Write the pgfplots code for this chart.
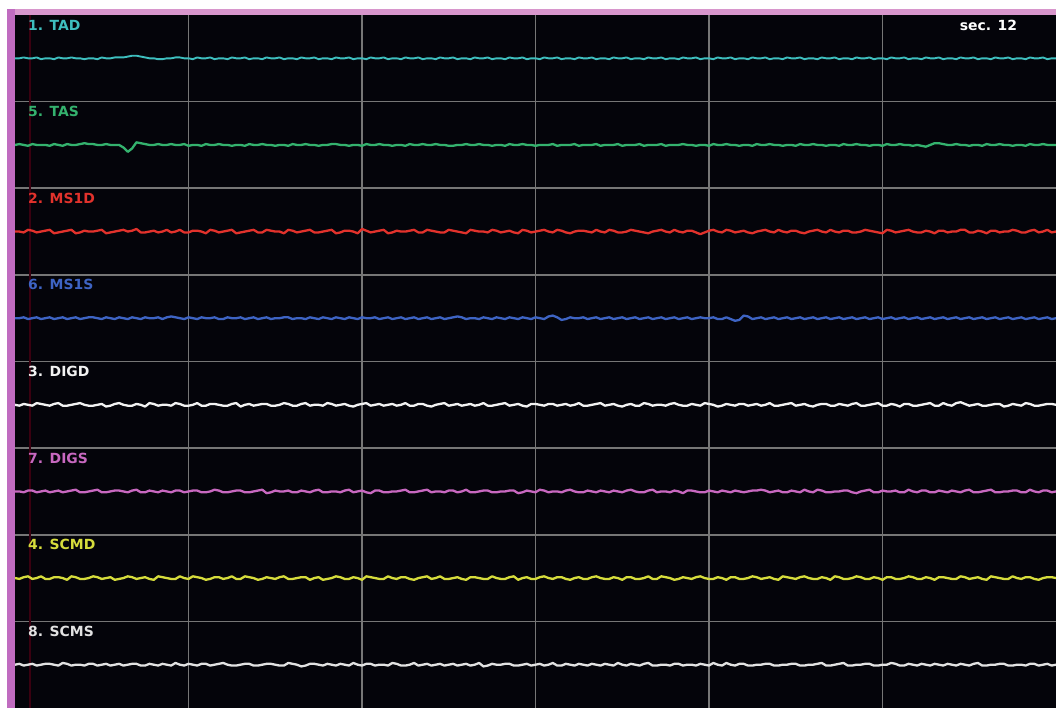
\documentclass[border=0pt]{standalone}
\usepackage{pgfplots}
\pgfplotsset{compat=1.18}
\usepackage{pgfplotstable}
\usepackage{fontspec}
\setmainfont{DejaVu Sans}
\definecolor{cTAD}{RGB}{62,190,190}
\definecolor{cTAS}{RGB}{52,178,110}
\definecolor{cMSD}{RGB}{226,50,44}
\definecolor{cMSS}{RGB}{62,100,196}
\definecolor{cDIGD}{RGB}{242,242,242}
\definecolor{cDIGS}{RGB}{200,104,192}
\definecolor{cSCMD}{RGB}{214,220,60}
\definecolor{cSCMS}{RGB}{226,226,226}
\definecolor{gridc}{RGB}{118,118,118}
\definecolor{pinkT}{RGB}{216,150,204}
\definecolor{pinkL}{RGB}{192,108,192}
\definecolor{bgc}{RGB}{4,4,10}
\definecolor{darkred}{RGB}{58,0,16}
\tikzset{chlab/.style={anchor=west, font=\bfseries\fontsize{14}{16}\selectfont, inner sep=0pt}}
\pgfplotstableread{
x a b c d e f g h
0.0 0 0 0 0 0 0 0 0
0.05 0 1 0 0 -1 0 -1 1
0.1 1 0 -1 1 1 -1 1 -1
0.15 0 -1 2 -1 0 1 2 0
0.2 0 1 1 0 -1 1 -1 1
0.25 1 0 -1 1 2 -1 0 -1
0.3 -1 0 0 -1 1 0 2 0
0.35 0 0 1 0 0 1 -1 1
0.4 0 -1 2 1 -1 -1 -1 1
0.45 -1 1 -2 -1 1 0 1 0
0.5 1 0 -1 0 2 1 1 -1
0.55 0 -1 0 1 -1 -1 0 2
0.6 0 1 1 -1 -1 0 -2 1
0.65 1 0 2 0 0 1 2 -1
0.7 0 0 -2 1 1 2 1 0
0.75 0 1 -1 -1 2 -1 -1 0
0.8 -1 2 1 0 0 -1 -1 -1
0.85 0 1 0 1 -1 0 0 1
0.9 0 1 0 1 -1 1 2 1
0.95 -1 0 1 0 0 2 1 -1
1.0 1 0 2 -1 1 -1 -1 0
1.05 0 1 -2 1 -2 -1 0 1
1.1 0 0 -1 0 -1 0 1 -1
1.15 1 0 0 -1 1 1 -2 0
1.2 1 0 1 1 2 1 -1 1
1.25 1 -3 2 0 0 0 0 -1
1.3 2 -8 0 -1 -1 -1 2 0
1.35 3 -4 1 1 -1 1 1 1
1.4 3 3 3 0 1 2 -1 1
1.45 2 2 -1 -1 0 -1 0 -1
1.5 1 1 -1 1 -2 -1 1 -1
1.55 0 0 0 0 2 1 -1 1
1.6 0 0 1 0 1 0 -2 0
1.65 -1 1 -1 1 -1 -1 2 -1
1.7 -1 0 0 -1 0 1 1 1
1.75 0 0 2 1 0 0 0 0
1.8 0 1 -1 2 -1 -1 -1 -1
1.85 1 0 0 1 2 1 -1 2
1.9 1 0 2 0 1 1 2 0
1.95 0 1 -1 -1 -1 -1 0 -1
2.0 0 -1 -1 1 -1 0 -1 1
2.05 -1 0 1 0 0 1 2 0
2.1 1 0 1 -1 2 1 1 -1
2.15 0 -1 0 1 -1 -1 0 1
2.2 0 1 -2 0 -1 -1 -2 1
2.25 1 0 2 0 1 0 -1 -1
2.3 -1 0 1 1 1 2 1 0
2.35 0 1 -1 -1 0 1 1 1
2.4 0 0 0 -1 -1 -1 -1 2
2.45 -1 0 1 1 -1 -1 0 0
2.5 1 -1 2 0 1 0 2 -1
2.55 0 0 -2 0 2 1 -1 -1
2.6 0 0 -1 1 -2 1 -1 0
2.65 1 -1 0 -1 0 -1 2 1
2.7 -1 1 1 0 1 -1 1 1
2.75 0 0 2 1 -1 0 0 -1
2.8 0 0 -1 -1 0 1 -2 -1
2.85 -1 1 -1 0 1 2 -1 0
2.9 1 0 2 1 1 -2 1 1
2.95 0 0 1 -1 -1 -1 0 1
3.0 0 -1 0 0 -1 1 -1 0
3.05 1 0 0 0 0 0 1 -1
3.1 -1 0 -2 1 2 0 2 -1
3.15 0 -1 2 1 1 1 -1 2
3.2 0 1 1 -1 -1 -1 -1 1
3.25 -1 0 -1 0 -1 -1 0 0
3.3 1 0 0 0 1 1 1 -2
3.35 0 1 1 -1 2 0 1 -1
3.4 0 0 2 1 -1 -1 -2 1
3.45 1 0 -1 0 0 1 0 1
3.5 -1 -1 -1 -1 0 2 1 0
3.55 0 0 0 1 -1 -1 -2 -1
3.6 0 0 1 0 2 -1 -1 1
3.65 -1 1 2 -1 1 0 0 0
3.7 1 1 -2 1 -1 0 2 -1
3.75 0 0 -1 0 0 -1 1 1
3.8 0 0 1 -1 1 1 -1 0
3.85 1 -1 1 1 -1 2 -1 -1
3.9 -1 0 0 0 -2 -1 1 2
3.95 0 0 -2 -1 0 0 0 0
4.0 0 -1 3 1 1 1 -2 -1
4.05 -1 1 1 0 2 -1 2 1
4.1 1 0 -1 0 -1 -2 1 1
4.15 0 0 0 1 0 1 0 -1
4.2 0 1 1 -1 1 1 -1 0
4.25 1 0 2 0 -1 -1 -1 0
4.3 -1 0 -2 1 0 -1 2 -1
4.35 0 -1 -1 -1 1 0 0 2
4.4 0 0 1 0 -1 0 -1 1
4.45 -1 0 0 1 0 1 1 -1
4.5 1 -1 0 -1 2 2 1 -1
4.55 0 1 1 0 -1 -1 -1 0
4.6 0 0 2 1 -1 -1 -2 2
4.65 1 0 -1 -1 1 0 0 -1
4.7 -1 1 -1 0 1 1 1 0
4.75 0 0 2 1 -1 2 2 1
4.8 0 0 1 -1 -2 -1 -1 -1
4.85 -1 1 0 0 0 0 0 0
4.9 1 0 -1 1 1 0 2 1
4.95 0 0 -1 -1 2 -1 -1 -1
5.0 0 -1 2 0 -1 1 -1 0
5.05 1 -1 1 1 0 1 0 1
5.1 -1 0 0 2 1 -1 1 -1
5.15 0 0 -1 1 -1 0 -1 0
5.2 0 1 -2 -1 0 2 -2 1
5.25 -1 0 2 0 1 -1 1 -1
5.3 1 0 1 0 -1 -1 1 0
5.35 0 1 0 -1 0 0 0 2
5.4 0 0 0 1 2 1 -1 -2
5.45 1 0 -1 0 -1 1 -1 -1
5.5 -1 -1 2 -1 -1 -1 2 1
5.55 0 0 1 1 0 -1 0 0
5.6 0 0 -1 0 1 0 -1 0
5.65 -1 -1 0 -1 2 0 -1 1
5.7 1 1 1 1 -1 1 1 1
5.75 0 0 -1 0 0 1 2 -1
5.8 0 0 -2 -1 1 -2 -2 -1
5.85 1 1 2 1 -1 -1 0 0
5.9 -1 0 1 0 -2 1 1 1
5.95 0 0 -1 -1 1 0 -1 -1
6.0 0 -1 0 1 1 -1 -1 0
6.05 -1 0 1 0 0 2 1 1
6.1 1 0 2 -1 -1 1 2 -1
6.15 0 0 0 2 1 -1 0 0
6.2 0 1 -1 3 1 0 -1 2
6.25 1 -1 2 1 -1 0 1 -1
6.3 -1 0 1 -2 0 -1 1 -1
6.35 0 0 -1 -1 1 1 -1 1
6.4 0 0 -2 1 -1 2 -2 0
6.45 -1 1 0 0 0 0 0 -1
6.5 1 -1 1 0 2 -1 1 1
6.55 0 0 1 1 -1 -1 -1 0
6.6 0 0 0 -1 -1 1 -1 -1
6.65 1 0 -1 0 0 0 1 1
6.7 -1 1 2 1 1 -1 2 0
6.75 0 -1 0 -1 2 1 0 -1
6.8 0 0 -1 0 -1 0 -1 1
6.85 -1 0 2 1 0 -1 -1 0
6.9 1 0 1 -1 1 1 1 -1
6.95 0 1 -1 0 -1 0 0 2
7.0 0 -1 -1 1 -2 -1 -2 0
7.05 1 0 0 -1 0 1 1 -1
7.1 -1 0 2 0 1 2 1 1
7.15 0 0 1 1 -1 0 -1 0
7.2 0 1 0 -1 -1 -1 -1 -1
7.25 -1 -1 -1 0 2 -1 0 1
7.3 1 0 -2 1 1 1 2 2
7.35 0 0 0 -1 -1 2 -1 -1
7.4 0 0 1 0 0 -1 -1 -1
7.45 1 1 2 1 0 0 2 0
7.5 -1 -1 0 -1 -1 0 1 0
7.55 0 0 -1 0 1 -1 0 -1
7.6 0 0 2 1 2 1 -2 1
7.65 -1 0 0 -1 0 0 -1 1
7.7 1 1 -1 0 -1 -2 1 -1
7.75 0 0 1 1 -1 1 0 0
7.8 0 0 1 -1 1 1 -1 0
7.85 1 -1 -1 0 0 0 1 -1
7.9 -1 0 -3 1 -1 -1 2 1
7.95 0 0 -1 0 2 -1 0 0
8.0 0 -1 1 0 1 1 -1 -1
8.05 -1 1 2 1 0 0 -1 2
8.1 1 0 0 -1 -2 -1 1 0
8.15 0 0 -1 -1 -1 1 0 -1
8.2 0 1 2 1 1 0 -2 2
8.25 1 0 1 -1 0 -1 1 0
8.3 -1 0 -1 -3 -1 1 1 -1
8.35 0 -1 0 -2 1 0 -1 1
8.4 0 0 1 3 1 -1 -1 1
8.45 -1 0 -1 2 -1 0 0 -1
8.5 1 -1 -2 -1 0 1 2 -1
8.55 0 1 0 0 1 1 1 0
8.6 0 0 1 1 -1 2 -1 0
8.65 1 0 2 -1 0 1 0 1
8.7 -1 1 0 0 2 -1 1 1
8.75 0 0 -1 1 -1 0 -1 -1
8.8 0 0 2 -1 -1 1 -2 -1
8.85 -1 -1 0 0 0 -1 2 0
8.9 1 0 -1 1 1 -1 1 0
8.95 0 0 1 -1 2 1 0 1
9.0 0 -1 1 0 -1 0 -1 1
9.05 1 1 -1 1 0 -1 1 -1
9.1 -1 0 -2 -1 1 2 2 -1
9.15 0 0 0 0 -1 0 0 0
9.2 0 1 1 1 -2 -1 -1 0
9.25 -1 0 2 -1 0 2 -1 1
9.3 1 0 0 0 1 1 1 2
9.35 0 -1 -1 1 1 -1 0 -1
9.4 0 0 2 -1 -1 -1 -2 -1
9.45 1 0 0 0 -1 0 2 0
9.5 -1 -1 -1 1 1 0 1 1
9.55 0 1 1 -1 0 1 -1 2
9.6 0 0 1 0 -1 1 -1 -1
9.65 -1 0 -1 1 1 -1 0 -1
9.7 1 1 -1 -1 2 -2 2 0
9.75 0 0 0 0 -1 0 1 0
9.8 0 0 2 1 -1 1 -1 1
9.85 1 -1 1 -1 0 2 -1 1
9.9 -1 0 0 0 1 -1 1 -1
9.95 0 0 -1 1 2 -1 0 -1
10.0 0 -1 -2 -1 -1 1 -2 0
10.05 -1 1 2 0 -1 0 1 0
10.1 1 0 1 1 1 0 1 2
10.15 0 0 -1 -1 0 1 -1 1
10.2 0 1 0 0 -2 -1 -1 -1
10.25 1 0 1 1 1 -1 0 -1
10.3 -1 0 2 -1 1 2 2 1
10.35 0 -1 0 0 -1 0 1 0
10.4 0 0 -1 1 -1 -1 -1 -1
10.45 -1 -1 -1 -1 0 1 -1 1
10.5 1 -2 1 0 1 1 1 0
10.55 0 0 0 1 2 -1 0 -1
10.6 0 2 -2 -1 -1 -1 -2 1
10.65 1 2 1 0 -1 1 1 0
10.7 -1 1 1 1 2 0 1 -1
10.75 0 0 -1 -1 0 -1 0 1
10.8 0 0 0 0 -1 1 -1 0
10.85 -1 1 0 1 2 0 -1 -1
10.9 1 0 2 -1 3 -1 2 1
10.95 0 0 2 0 1 1 1 0
11.0 0 -1 -1 1 -1 2 -1 -1
11.05 1 0 -1 -1 0 -1 0 1
11.1 -1 0 1 0 1 -1 1 2
11.15 0 -1 0 1 -1 0 -1 -1
11.2 0 1 -2 -1 -1 1 -2 -1
11.25 -1 0 1 0 0 2 2 0
11.3 1 0 1 1 1 -1 1 0
11.35 0 1 -1 -1 1 -1 0 1
11.4 0 0 0 0 -2 0 -1 1
11.45 1 0 0 1 -1 0 -1 -1
11.5 -1 -1 2 -1 1 1 2 -1
11.55 0 0 1 0 0 1 0 0
11.6 0 0 -1 1 -1 -1 -1 0
11.65 -1 -1 -1 -1 2 -1 1 -1
11.7 1 1 1 0 1 2 1 1
11.75 0 0 2 1 -1 0 -1 1
11.8 0 0 -1 -1 -1 -1 -2 -1
11.85 1 1 0 0 0 1 0 0
11.9 -1 0 2 1 1 1 1 1
11.95 0 0 -1 -1 1 -1 1 -1
12.0 0 0 0 0 0 0 0 0
}\emg
\begin{document}
\begin{tikzpicture}
\useasboundingbox (0,0) rectangle (1056bp,708bp);
\fill[white] (0,0) rectangle (1056bp,708bp);
\fill[pinkT] (7bp,693bp) rectangle (1056bp,699bp);
\fill[pinkL] (7bp,0bp) rectangle (15bp,699bp);
\begin{axis}[
  at={(15bp,0bp)}, anchor=south west,
  width=1041bp, height=693bp, scale only axis,
  xmin=0, xmax=12, ymin=0, ymax=8,
  axis background/.style={fill=bgc},
  axis line style={draw=none},
  tick style={draw=none},
  xtick={2,4,6,8,10}, ytick={1,2,3,4,5,6,7},
  xticklabels={}, yticklabels={},
  grid=major, grid style={color=gridc, line width=1.6bp},
  clip=true,
  every axis plot/.append style={line width=2.3bp, line join=round},
]
\draw[darkred, line width=2bp] (axis cs:0.173,0) -- (axis cs:0.173,8);
\addplot[no marks, cTAD, line width=1.9bp]  table[x=x, y expr={7.5+\thisrow{a}/100}] {\emg};
\addplot[no marks, cTAS]  table[x=x, y expr={6.5+\thisrow{b}/100}] {\emg};
\addplot[no marks, cMSD]  table[x=x, y expr={5.5+\thisrow{c}/100}] {\emg};
\addplot[no marks, cMSS]  table[x=x, y expr={4.5+\thisrow{d}/100}] {\emg};
\addplot[no marks, cDIGD] table[x=x, y expr={3.5+\thisrow{e}/100}] {\emg};
\addplot[no marks, cDIGS] table[x=x, y expr={2.5+\thisrow{f}/100}] {\emg};
\addplot[no marks, cSCMD] table[x=x, y expr={1.5+\thisrow{g}/100}] {\emg};
\addplot[no marks, cSCMS] table[x=x, y expr={0.5+\thisrow{h}/100}] {\emg};
\node[chlab, text=cTAD]  at (axis cs:0.15,7.885) {1. TAD};
\node[chlab, text=cTAS]  at (axis cs:0.15,6.885) {5. TAS};
\node[chlab, text=cMSD]  at (axis cs:0.15,5.885) {2. MS1D};
\node[chlab, text=cMSS]  at (axis cs:0.15,4.885) {6. MS1S};
\node[chlab, text=cDIGD] at (axis cs:0.15,3.885) {3. DIGD};
\node[chlab, text=cDIGS] at (axis cs:0.15,2.885) {7. DIGS};
\node[chlab, text=cSCMD] at (axis cs:0.15,1.885) {4. SCMD};
\node[chlab, text=cSCMS] at (axis cs:0.15,0.885) {8. SCMS};
\node[chlab, text=white] at (axis cs:10.89,7.885) {sec. 12};
\end{axis}
\end{tikzpicture}
\end{document}
